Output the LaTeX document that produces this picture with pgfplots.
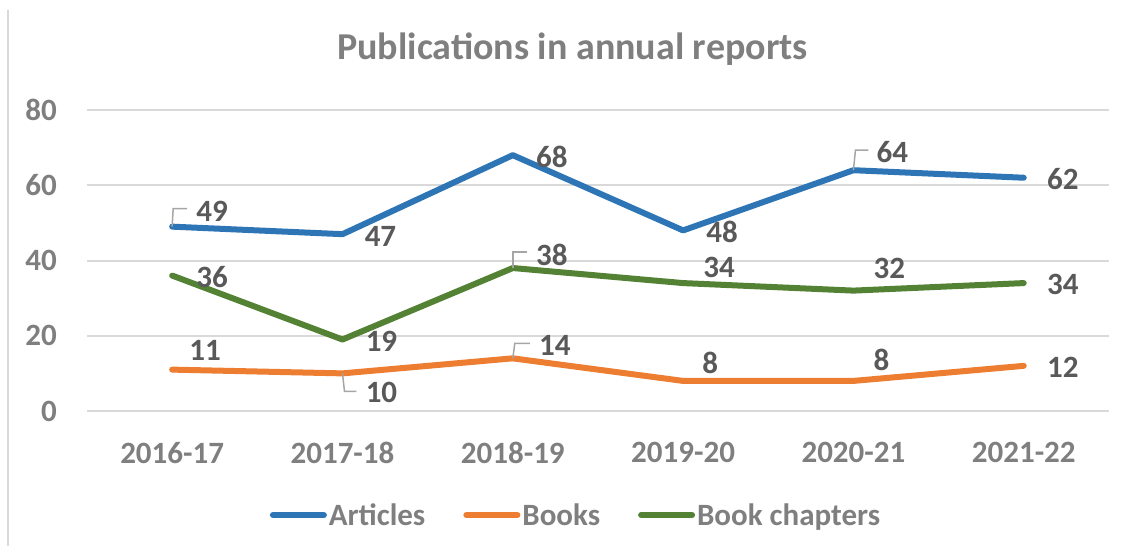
\documentclass[border=0pt]{standalone}
\usepackage{fontspec}
\setmainfont{Carlito}
\usepackage{pgfplots}
\pgfplotsset{compat=1.18}
\usepackage{pgfplotstable}
\definecolor{cBlue}{HTML}{2E75B6}
\definecolor{cOrange}{HTML}{ED7D31}
\definecolor{cGreen}{HTML}{548235}
\definecolor{cGrid}{HTML}{D9D9D9}
\definecolor{cTick}{HTML}{7F7F7F}
\definecolor{cLab}{HTML}{595959}
\definecolor{cLead}{HTML}{A6A6A6}

\pgfplotstableread{
x y dx dy
0 49 40 15.6
1 47 38 -2
2 68 39 -2
3 48 39 -1.5
4 64 39 18
5 62 39 -1
}\articles
\pgfplotstableread{
x y dx dy
0 11 33 19.6
1 10 39 -18.6
2 14 42 13.3
3 8 27 17.9
4 8 28 20.9
5 12 39 -1.1
}\books
\pgfplotstableread{
x y dx dy
0 36 40 -1.5
1 19 39 -1.5
2 38 39 13
3 34 36 16
4 32 36 22.6
5 34 39 -1
}\chapters

\newcommand{\bigfont}{\fontsize{31}{37}\selectfont\bfseries}

\begin{document}
\begin{tikzpicture}
\begin{axis}[
  width=1022pt, height=301pt, scale only axis,
  xmin=-0.5, xmax=5.5, ymin=0, ymax=80,
  ytick={0,20,40,60,80},
  xtick={0,1,2,3,4,5},
  xticklabels={2016-17,2017-18,2018-19,2019-20,2020-21,2021-22},
  axis line style={draw=none},
  major tick length=0pt,
  ymajorgrids,
  grid style={cGrid, line width=2pt},
  tick label style={font=\bigfont, text=cTick, inner sep=0pt},
  yticklabel style={anchor=east, xshift=-30pt},
  xticklabel style={anchor=north, yshift=-31pt},
  /pgf/number format/assume math mode=true,
  clip=false,
  every axis plot/.append style={line width=6pt, line join=round, line cap=round, mark=none},
  nodes near coords,
  visualization depends on={\thisrow{dx} \as \dx},
  visualization depends on={\thisrow{dy} \as \dy},
  every node near coord/.append style={font=\bigfont, text=cLab, inner sep=0pt, anchor=center, xshift=\dx pt, yshift=\dy pt},
  legend style={at={(axis description cs:0.4785,-0.3455)}, anchor=center, draw=none, fill=none,
     font=\bigfont, text=cTick, inner sep=0pt, nodes={inner sep=2pt},
     /tikz/every even column/.append style={column sep=36pt}},
  legend columns=3,
  legend image code/.code={\draw[#1, line width=6pt, line cap=round] (0pt,0pt) -- (51pt,0pt);},
]
\addplot[cBlue] table[x=x, y=y] {\articles};
\addlegendentry{Articles}
\addplot[cOrange] table[x=x, y=y] {\books};
\addlegendentry{Books}
\addplot[cGreen] table[x=x, y=y] {\chapters};
\addlegendentry{Book chapters}

\draw[cLead, line width=1.5pt] (axis cs:0,49) -- ++(1pt,18pt) -- ++(14pt,0pt);
\draw[cLead, line width=1.5pt] (axis cs:2,38) -- ++(0pt,16pt) -- ++(14pt,0pt);
\draw[cLead, line width=1.5pt] (axis cs:2,14) -- ++(2pt,15pt) -- ++(15pt,0pt);
\draw[cLead, line width=1.5pt] (axis cs:1,10) -- ++(2pt,-18pt) -- ++(12pt,0pt);
\draw[cLead, line width=1.5pt] (axis cs:4,64) -- ++(2pt,20pt) -- ++(13pt,0pt);
\end{axis}
\node[font=\fontsize{38}{44}\selectfont\bfseries, text=cTick, anchor=base] at (485.5pt,352pt) {Publications in annual reports};
\draw[cGrid, line width=2pt] (-79pt,-135pt) -- (-79pt,401pt);
\pgfresetboundingbox
\useasboundingbox (-87pt,-139pt) rectangle (1036pt,411pt);
\end{tikzpicture}
\end{document}
